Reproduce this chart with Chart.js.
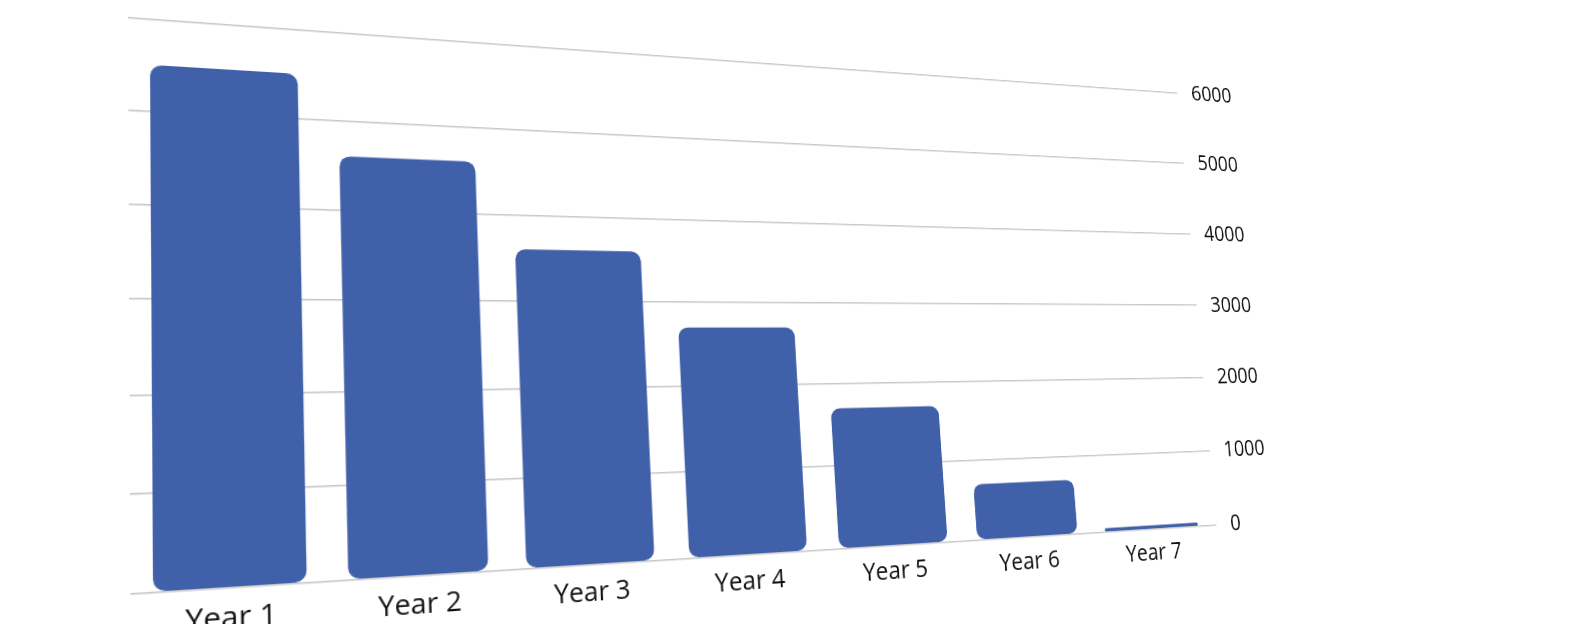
<!DOCTYPE html>
<html>
<head>
<meta charset="utf-8">
<script src="https://cdn.jsdelivr.net/npm/chart.js@4"></script>
<style>
  html, body { margin: 0; padding: 0; background: #fff; overflow: hidden; }
  #wrap { width: 1581px; height: 624px; perspective: 1600px; }
  #box { width: 1250px; height: 590px; margin-left: 170px; margin-top: 12px;
         transform: rotateY(24deg) rotateX(8deg); transform-origin: 40% 50%; }
  canvas { display: block; }
</style>
</head>
<body>
<div id="wrap"><div id="box"><canvas id="chart" width="1250" height="590"></canvas></div></div>
<script>
const categories = ['Year 1', 'Year 2', 'Year 3', 'Year 4', 'Year 5', 'Year 6', 'Year 7'];
const values = [5500, 4600, 3600, 2700, 1700, 700, 50];
const yTicks = [0, 1000, 2000, 3000, 4000, 5000, 6000];

function barFill(context) {
  const el = context.element;
  if (!context.chart.chartArea || !el || el.x === undefined) return '#4160aa';
  const w = el.width || 100;
  const g = context.chart.ctx.createLinearGradient(el.x - w / 2, 0, el.x + w / 2, 0);
  g.addColorStop(0, '#3e5ca6');
  g.addColorStop(0.72, '#4262ae');
  g.addColorStop(0.84, '#2c427c');
  g.addColorStop(1, '#1f2f5a');
  return g;
}

new Chart(document.getElementById('chart').getContext('2d'), {
  type: 'bar',
  data: {
    labels: categories,
    datasets: [{
      data: values,
      backgroundColor: barFill,
      borderRadius: 10,
      borderSkipped: false,
      categoryPercentage: 0.82,
      barPercentage: 0.95
    }]
  },
  options: {
    responsive: false,
    animation: false,
    plugins: { legend: { display: false }, tooltip: { enabled: false } },
    scales: {
      x: {
        grid: { display: false },
        border: { display: false },
        ticks: { color: '#111', autoSkip: false, maxRotation: 0, minRotation: 0,
                 font: { family: 'Open Sans', size: 26 } }
      },
      y: {
        position: 'right',
        min: yTicks[0], max: yTicks[yTicks.length - 1],
        grid: { color: '#c8c8c8', lineWidth: 1.5 },
        border: { display: false },
        ticks: { stepSize: 1000, color: '#111', padding: 20,
                 callback: v => String(v),
                 font: { family: 'Open Sans', size: 26 } }
      }
    }
  }
});
</script>
</body>
</html>
